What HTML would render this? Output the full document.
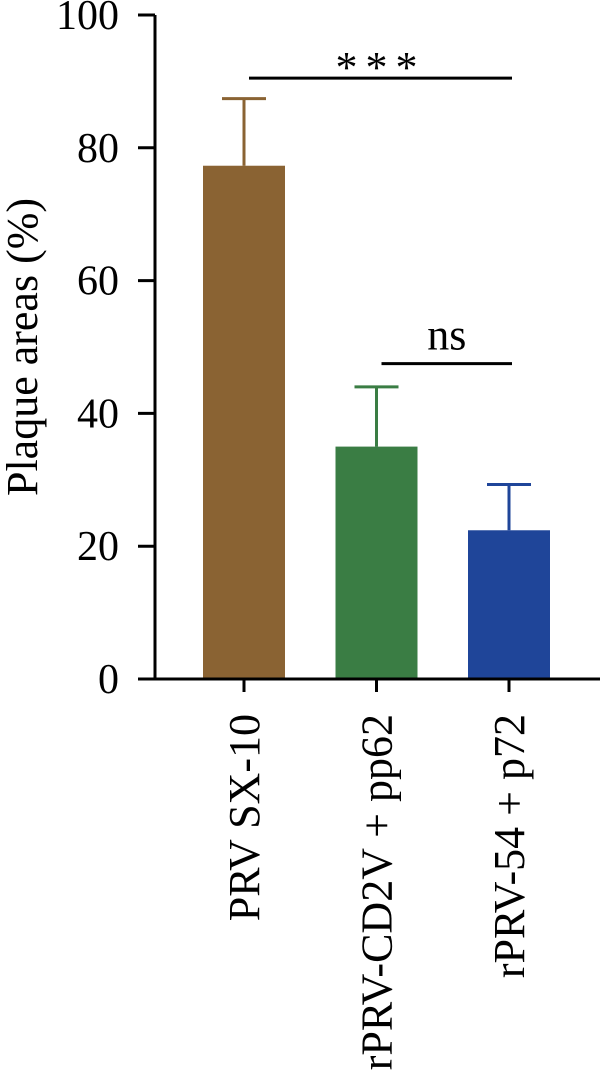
<!DOCTYPE html>
<html><head><meta charset="utf-8"><style>
body{margin:0;background:#fff}
svg{display:block;font-family:"Liberation Serif",serif}
</style></head><body>
<svg id="chart" width="600" height="1092" viewBox="0 0 600 1092"></svg>
<script>
const categories=["PRV SX-10","rPRV-CD2V + pp62","rPRV-54 + p72"];
const values=[77.3,35.0,22.4];
const errors=[10.1,9.0,6.9];
const colors=["#8a6333","#3a7d44","#1f4599"];
const yTicks=[0,20,40,60,80,100];
const sigPairs=[[0,2,"***",90.5],[1,2,"ns",47.5]];
const svg=document.getElementById('chart');
const NS='http://www.w3.org/2000/svg';
const x0=155,y0=679,yTop=15,ymax=100;
const y=v=>y0-(v/ymax)*(y0-yTop);
const xc=i=>244+i*132.5;
const bw=82;
function mk(tag,attrs,parent){const e=document.createElementNS(NS,tag);for(const k in attrs)e.setAttribute(k,attrs[k]);(parent||svg).appendChild(e);return e;}
categories.forEach((c,i)=>{
  const b=mk('rect',{x:xc(i)-bw/2,y:y(values[i]),width:bw,height:y0-y(values[i]),fill:colors[i]});
  
  
  const g=mk('g',{stroke:colors[i],'stroke-width':3,fill:'none'});
  
  
  mk('line',{x1:xc(i),x2:xc(i),y1:y(values[i]),y2:y(values[i]+errors[i])},g);
  mk('line',{x1:xc(i)-22,x2:xc(i)+22,y1:y(values[i]+errors[i]),y2:y(values[i]+errors[i])},g);
  const t=mk('line',{x1:xc(i),x2:xc(i),y1:y0,y2:y0+13,stroke:'#000','stroke-width':3});
  
  
  const l=mk('text',{x:0,y:0,'font-size':44,'text-anchor':'end',transform:`translate(${xc(i)+15},714) rotate(-90)`,fill:'#000'});
  l.textContent=c;
  
  
});
const ax=mk('path',{d:`M${x0} ${yTop}V${y0}H600`,stroke:'#000','stroke-width':3,fill:'none'});


yTicks.forEach(v=>{
  const t=mk('line',{x1:x0-17,x2:x0,y1:y(v),y2:y(v),stroke:'#000','stroke-width':3});
  
  
  const l=mk('text',{x:119,y:y(v)+14,'font-size':42,'text-anchor':'end',fill:'#000'});
  l.textContent=v;
  
  
});
const yt=mk('text',{x:0,y:0,'font-size':44,'text-anchor':'middle',transform:'translate(37,347) rotate(-90)',fill:'#000'});
yt.textContent='Plaque areas (%)';


sigPairs.forEach(([a,b,lab,lv])=>{
  const x1=xc(a)+5,x2=xc(b)+3;
  const ln=mk('line',{x1:x1,x2:x2,y1:y(lv),y2:y(lv),stroke:'#000','stroke-width':3});
  
  
  const t=mk('text',{x:(x1+x2)/2,y:y(lv)-(lab==='***'?-4:14),'font-size':lab==='***'?44:44,'text-anchor':'middle',fill:'#000','letter-spacing':lab==='***'?8:0});
  t.textContent=lab;
  
  
});
</script>
</body></html>
